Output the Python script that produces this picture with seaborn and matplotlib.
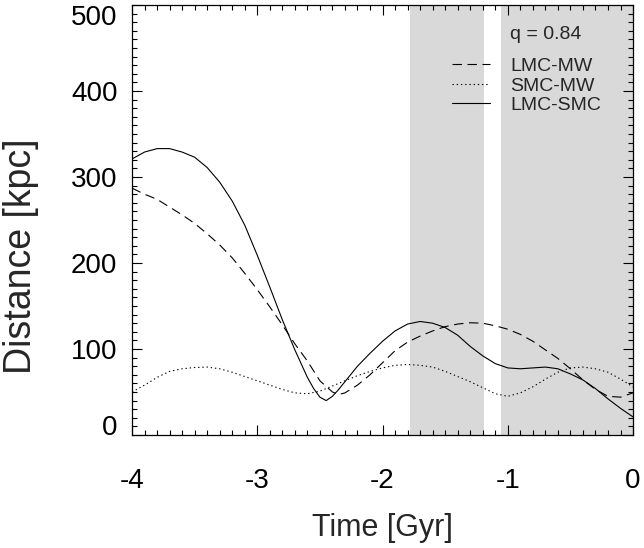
import matplotlib
matplotlib.use("Agg")
import matplotlib.pyplot as plt
from matplotlib.ticker import MultipleLocator
import seaborn as sns

# ---- data ----
time_lmc_mw = [-4.0, -3.9, -3.8, -3.7, -3.6, -3.5, -3.4, -3.3, -3.2, -3.1, -3.0,
               -2.9, -2.8, -2.7, -2.6, -2.5, -2.4, -2.35, -2.3, -2.2, -2.1, -2.0,
               -1.9, -1.8, -1.7, -1.6, -1.5, -1.4, -1.3, -1.2, -1.1, -1.0,
               -0.9, -0.8, -0.7, -0.6, -0.5, -0.4, -0.3, -0.2, -0.1, 0.0]
dist_lmc_mw = [287, 280, 274, 265, 256, 246, 234, 221, 206, 188, 169,
               149, 128, 106, 86, 63, 50, 47, 49, 58, 70, 84,
               98, 108, 115, 121, 126, 129, 130.5, 130, 127, 123,
               117, 109, 99, 89, 77, 64, 53, 45, 44, 49]

time_smc_mw = [-4.0, -3.9, -3.8, -3.7, -3.6, -3.5, -3.4, -3.3, -3.2, -3.1, -3.0,
               -2.9, -2.8, -2.7, -2.6, -2.5, -2.4, -2.3, -2.2, -2.1, -2.0,
               -1.9, -1.8, -1.7, -1.6, -1.5, -1.4, -1.3, -1.2, -1.1, -1.0,
               -0.9, -0.8, -0.7, -0.6, -0.5, -0.4, -0.3, -0.2, -0.1, 0.0]
dist_smc_mw = [50, 58, 67, 74, 77, 78.5, 79, 77, 73, 68, 63,
               58, 53, 49, 48, 51, 57, 63, 69, 74, 78,
               81, 82, 81, 79, 74, 68, 62, 55, 48, 45,
               49, 56, 65, 73, 78, 79, 77, 73, 65, 56]

time_lmc_smc = [-4.0, -3.9, -3.8, -3.7, -3.6, -3.5, -3.4, -3.3, -3.2, -3.1, -3.0,
                -2.9, -2.8, -2.7, -2.6, -2.55, -2.5, -2.45, -2.4, -2.35, -2.3,
                -2.2, -2.1, -2.0, -1.9, -1.8, -1.7, -1.6, -1.5, -1.4, -1.3,
                -1.2, -1.1, -1.0, -0.9, -0.8, -0.7, -0.6, -0.5, -0.4, -0.3,
                -0.2, -0.1, 0.0]
dist_lmc_smc = [321, 329, 333, 333, 329, 323, 311, 294, 272, 244, 209,
                172, 134, 99, 67, 54, 44, 40, 45, 53, 62,
                80, 95, 109, 121, 129, 132, 130, 125, 116, 103,
                92, 83, 78, 77, 78, 79, 77, 71, 64, 54,
                42, 31, 21]

series_labels = ["LMC-MW", "SMC-MW", "LMC-SMC"]
shade_spans = [(-1.78, -1.19), (-1.055, 0.0)]
x_ticks = [-4, -3, -2, -1, 0]
x_ticklabels = ["-4", "-3", "-2", "-1", "0"]
y_ticks = [0, 100, 200, 300, 400, 500]
y_ticklabels = ["0", "100", "200", "300", "400", "500"]
annotation = "q = 0.84"

# ---- style ----
sns.set_style("ticks")
plt.rcParams["font.family"] = ["Liberation Sans", "DejaVu Sans"]
plt.rcParams["axes.unicode_minus"] = False

fig = plt.figure(figsize=(6.44, 5.48), dpi=100)
ax = fig.add_axes([0.2050, 0.2062, 0.7780, 0.7847])

for a, b in shade_spans:
    ax.axvspan(a, b, color="#d9d9d9", lw=0, zorder=0)

lw = 0.8
sns.lineplot(x=time_lmc_mw, y=dist_lmc_mw, ax=ax, color="black", linewidth=lw,
             linestyle=(0, (8.5, 5)), label=series_labels[0], legend=False, sort=False)
sns.lineplot(x=time_smc_mw, y=dist_smc_mw, ax=ax, color="black", linewidth=lw,
             linestyle=(0, (1.2, 2.6)), label=series_labels[1], legend=False, sort=False)
sns.lineplot(x=time_lmc_smc, y=dist_lmc_smc, ax=ax, color="black", linewidth=lw,
             linestyle="-", label=series_labels[2], legend=False, sort=False)

ax.set_xlim(-4, 0)
ax.set_ylim(0, 500)
ax.set_xticks(x_ticks)
ax.set_xticklabels(x_ticklabels)
ax.set_yticks(y_ticks)
ax.set_yticklabels(y_ticklabels)
ax.xaxis.set_minor_locator(MultipleLocator(0.1))
ax.yaxis.set_minor_locator(MultipleLocator(10))

for s in ax.spines.values():
    s.set_linewidth(0.9)
    s.set_color("black")

ax.tick_params(which="both", direction="in", top=True, right=True, colors="black", width=0.8)
ax.tick_params(which="major", length=7.5)
ax.tick_params(which="minor", length=3.8)
ax.tick_params(axis="x", which="major", labelsize=20, pad=23.5)
ax.tick_params(axis="y", which="major", labelsize=20, pad=10.5)

ax.set_xlabel("Time [Gyr]", fontsize=22, va="center")
ax.xaxis.set_label_coords(0.5, -0.216)
ax.set_ylabel("Distance [kpc]", fontsize=27, va="center")
ax.yaxis.set_label_coords(-0.222, 0.415)

ax.text(0.755, 0.932, annotation, transform=ax.transAxes, fontsize=14,
        ha="left", va="center")

leg = ax.legend(loc="upper left", bbox_to_anchor=(0.639, 0.878), frameon=False,
                fontsize=14, handlelength=1.95, handletextpad=1.03,
                labelspacing=0.1, borderpad=0, borderaxespad=0)

# IDL-style placement of the end labels of the y axis
yt = ax.yaxis.get_major_ticks()
yt[-1].label1.set_verticalalignment("top")
yt[0].label1.set_verticalalignment("baseline")

fig.savefig("out.png", dpi=100)
